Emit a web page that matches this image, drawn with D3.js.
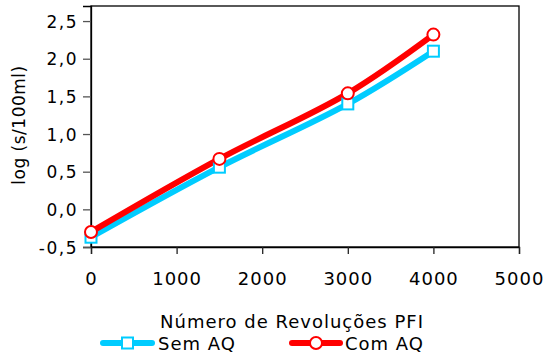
<!DOCTYPE html>
<html>
<head>
<meta charset="utf-8">
<style>
  body { margin: 0; background: #fff; }
  .ylab { font: 17px "DejaVu Sans", Verdana, sans-serif; letter-spacing: 1.5px; }
  .ytitle { font: 17px "DejaVu Sans", Verdana, sans-serif; letter-spacing: 0.5px; }
  .comic { font-family: "Comic Sans MS", "DejaVu Sans", sans-serif; letter-spacing: 1px; }
</style>
</head>
<body>
<script src="https://cdn.jsdelivr.net/npm/d3@7"></script>
<script>

// data
var revs = [0, 1500, 3000, 4000];
var semAQ = [-0.37, 0.56, 1.40, 2.10];
var comAQ = [-0.30, 0.67, 1.54, 2.32];
var xTicks = [0, 1000, 2000, 3000, 4000, 5000];
var yTicks = [-0.5, 0, 0.5, 1, 1.5, 2, 2.5];
var seriesNames = ["Sem AQ", "Com AQ"];

var W = 545, H = 358;
var m = {t: 6, r: 26, b: 111, l: 91};
var w = W - m.l - m.r;
var h = H - m.t - m.b;

var svg = d3.select("body").append("svg")
    .attr("width", W).attr("height", H);
var g = svg.append("g").attr("transform", "translate(" + m.l + "," + m.t + ")");

var x = d3.scaleLinear().domain([0, 5000]).range([0, w]);
var y = d3.scaleLinear().domain([-0.5, 2.7]).range([h, 0]);

// frame
g.append("rect").attr("width", w).attr("height", h)
  .attr("fill", "none").attr("stroke", "#000").attr("stroke-width", 1.3);

var fmt = function(d) { return d3.format(".1f")(d).replace(".", ",").replace("−", "-"); };

var yAxis = g.append("g")
  .call(d3.axisLeft(y).tickValues(yTicks).tickSize(8).tickPadding(5).tickFormat(fmt));
yAxis.select(".domain").attr("stroke", "#000").attr("stroke-width", 1.3);
yAxis.selectAll(".tick line").attr("stroke", "#555").attr("stroke-width", 1.3);
yAxis.selectAll("text").attr("class", "ylab").attr("fill", "#000").attr("dy", "0.36em");

var xAxis = g.append("g").attr("transform", "translate(0," + h + ")")
  .call(d3.axisBottom(x).tickValues(xTicks).tickSize(7).tickPadding(18).tickFormat(d3.format("d")));
xAxis.select(".domain").attr("stroke", "#000").attr("stroke-width", 1.3);
xAxis.selectAll(".tick line").attr("stroke", "#222").attr("stroke-width", 1.3);
xAxis.selectAll("text").attr("class", "comic").style("font-size", "18px").attr("fill", "#000");

// axis titles
svg.append("text").attr("class", "ytitle")
  .attr("transform", "translate(25,125) rotate(-90)")
  .attr("text-anchor", "middle").text("log (s/100ml)");

svg.append("text").attr("class", "comic")
  .attr("x", 292).attr("y", 328).attr("text-anchor", "middle")
  .style("font-size", "18px").text("Número de Revoluções PFI");

var line = d3.line().curve(d3.curveCatmullRom.alpha(0.5))
  .x(function(d) { return x(d[0]); })
  .y(function(d) { return y(d[1]); });

var blue = "#00ccff", red = "#ff0000";
var semPts = revs.map(function(r, i) { return [r, semAQ[i]]; });
var comPts = revs.map(function(r, i) { return [r, comAQ[i]]; });

g.append("path").datum(semPts).attr("d", line)
  .attr("fill", "none").attr("stroke", blue).attr("stroke-width", 6).attr("stroke-linejoin", "round");
g.append("path").datum(comPts).attr("d", line)
  .attr("fill", "none").attr("stroke", red).attr("stroke-width", 6).attr("stroke-linejoin", "round");

g.selectAll(".sq").data(semPts).enter().append("rect")
  .attr("x", function(d) { return x(d[0]) - 5.5; })
  .attr("y", function(d) { return y(d[1]) - 5.5; })
  .attr("width", 11).attr("height", 11)
  .attr("fill", "#fff").attr("stroke", blue).attr("stroke-width", 2);

g.selectAll(".ci").data(comPts).enter().append("circle")
  .attr("cx", function(d) { return x(d[0]); })
  .attr("cy", function(d) { return y(d[1]); })
  .attr("r", 6)
  .attr("fill", "#fff").attr("stroke", red).attr("stroke-width", 2);

// legend
var leg = svg.append("g");
var legItems = [
  {name: seriesNames[0], color: blue, x0: 103, x1: 152, tx: 158, shape: "sq"},
  {name: seriesNames[1], color: red, x0: 292, x1: 340, tx: 345, shape: "ci"}
];
var ly = 343;
legItems.forEach(function(d) {
  leg.append("line").attr("x1", d.x0).attr("x2", d.x1).attr("y1", ly).attr("y2", ly)
    .attr("stroke", d.color).attr("stroke-width", 6).attr("stroke-linecap", "round");
  var cx = (d.x0 + d.x1) / 2;
  if (d.shape === "sq") {
    leg.append("rect").attr("x", cx - 5.5).attr("y", ly - 5.5).attr("width", 11).attr("height", 11)
      .attr("fill", "#fff").attr("stroke", d.color).attr("stroke-width", 2);
  } else {
    leg.append("circle").attr("cx", cx).attr("cy", ly).attr("r", 6)
      .attr("fill", "#fff").attr("stroke", d.color).attr("stroke-width", 2);
  }
  leg.append("text").attr("class", "comic").attr("x", d.tx).attr("y", ly + 7)
    .style("font-size", "18px").text(d.name);
});

</script>
</body>
</html>
